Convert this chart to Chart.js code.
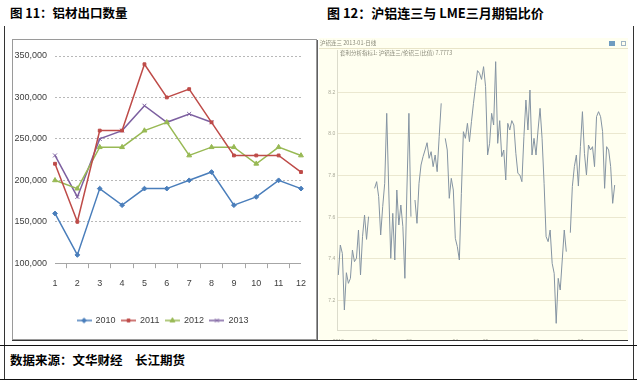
<!DOCTYPE html>
<html>
<head>
<meta charset="utf-8">
<script src="https://cdn.jsdelivr.net/npm/chart.js@4.4.0/dist/chart.umd.min.js"></script>
<style>
body { margin:0; background:#fff; width:637px; height:382px; position:relative; overflow:hidden; font-family:"Noto Sans CJK SC", sans-serif; }
.abs { position:absolute; }
.title { font-weight:bold; font-size:12.5px; line-height:16px; color:#000; top:5px; white-space:nowrap; }
.vline { width:1px; background:#333; }
.hline { height:1px; background:#111; }
#leftBox { left:12px; top:39px; width:303px; height:299px; border:1px solid #9a9a9a; box-shadow:1px 1px 0 #606060; background:#fff; }
#rightBox { left:319px; top:38px; width:309px; height:302px; background:#fffff0; }
.tiny { font-size:5.5px; color:#8a8a7a; white-space:nowrap; line-height:7px; }
</style>
</head>
<body>

<div class="abs title" style="left:10px;">图 11：铝材出口数量</div>
<div class="abs title" style="left:327px;font-size:13px;">图 12：沪铝连三与 LME三月期铝比价</div>

<div class="abs vline" style="left:4px;top:26px;height:354px;"></div>
<div class="abs vline" style="left:633px;top:26px;height:354px;"></div>

<div class="abs" id="leftBox"><canvas id="exports" width="303" height="299"></canvas></div>

<div class="abs" id="rightBox">
  <canvas id="ratio" width="309" height="302"></canvas>
  <div class="abs tiny" style="left:1px;top:2px;">沪铝连三 2013-01-日线</div>
  <div class="abs" style="left:0;top:10px;width:309px;height:1px;background:#e8e4c8;"></div>
  <div class="abs tiny" style="left:21px;top:12px;">套利分析指标1: 沪铝连三/伦铝三(比值)  7.7773</div>
  <div class="abs" style="left:290px;top:3px;width:6px;height:5px;background:#6f9cc0;"></div>
  <div class="abs" style="left:302px;top:3px;width:5px;height:5px;border:1px solid #9fb4c4;box-sizing:border-box;"></div>
</div>

<div class="abs hline" style="left:12px;top:340px;width:616px;background:#333;"></div>
<div class="abs hline" style="left:0;top:345px;width:637px;"></div>
<div class="abs title" style="left:10px;top:352px;">数据来源：文华财经　长江期货</div>
<div class="abs hline" style="left:0;top:379px;width:637px;"></div>

<script>
// 铝材出口数量 (吨)
const months = ['1','2','3','4','5','6','7','8','9','10','11','12'];
const exp2010 = [160000,110000,190000,170000,190000,190000,200000,210000,170000,180000,200000,190000];
const exp2011 = [220000,150000,260000,260000,340000,300000,310000,270000,230000,230000,230000,210000];
const exp2012 = [200000,190000,240000,240000,260000,270000,230000,240000,240000,220000,240000,230000];
const exp2013 = [230000,180000,250000,260000,290000,270000,280000,270000,null,null,null,null];

// 沪铝连三 / LME三月 比值, daily
const ratio = [
  7.323,7.467,7.427,7.155,7.334,7.283,7.307,7.443,7.387,7.403,7.539,7.323,7.507,7.611,7.494,7.603,
  null,null,
  7.739,7.771,7.699,7.515,7.651,7.763,8.099,7.731,7.403,7.619,7.395,7.731,7.563,7.659,7.555,7.307,7.731,8.099,7.603,
  null,
  7.683,7.571,7.763,7.851,7.891,7.923,7.958,7.883,7.915,7.843,7.899,7.819,7.987,8.147,
  null,
  7.979,7.923,7.691,7.787,7.731,7.499,7.459,7.395,7.715,8.011,7.979,8.051,7.963,8.059,8.147,8.227,
  8.304,8.291,8.262,8.323,8.227,7.899,7.955,8.099,8.043,8.347,7.955,8.064,7.891,7.923,7.779,8.051,
  8.019,8.064,8.043,7.907,7.811,7.803,7.771,7.987,8.163,8.019,8.211,7.899,7.979,7.899,8.019,8.123,
  7.979,7.763,7.507,7.483,7.539,7.379,7.331,7.091,7.307,7.251,7.395,7.539,7.435,
  null,
  7.526,7.747,7.843,7.899,7.750,7.939,8.107,7.907,7.803,7.947,7.923,7.939,7.843,8.083,8.107,8.083,
  8.011,7.739,7.939,7.923,7.843,7.667,7.755
];
const ratioTicks = [7.2,7.4,7.6,7.8,8.0,8.2];
const monthLabels = ['2013','02','03','04','05','06','07'];
const monthStart = [0,18,35,58,73,98,120];

const tickFont = {family:'"Liberation Sans", sans-serif', size:9};
const tickColor = '#404040';

function legendIcon(color, style, r) {
  const c = document.createElement('canvas');
  c.width = 15; c.height = 8;
  const g = c.getContext('2d');
  g.strokeStyle = color; g.fillStyle = color; g.lineWidth = 1.5;
  g.beginPath(); g.moveTo(0, 4); g.lineTo(15, 4); g.stroke();
  g.lineWidth = 1;
  Chart.helpers.drawPoint(g, {pointStyle: style, radius: r, rotation: 0, borderWidth: 1}, 7.5, 4);
  return c;
}

function series(label, data, color, style, r) {
  return {
    label: label, data: data,
    borderColor: color, backgroundColor: color, borderWidth: 1.5,
    pointStyle: style, pointRadius: r, pointBorderWidth: 1,
    pointBackgroundColor: color, pointBorderColor: color,
    tension: 0, spanGaps: false,
    icon: legendIcon(color, style, r)
  };
}

new Chart(document.getElementById('exports'), {
  type: 'line',
  data: {
    labels: months,
    datasets: [
      series('2010', exp2010, '#4a7ebb', 'rectRot', 2.4),
      series('2011', exp2011, '#be4b48', 'rect', 2),
      series('2012', exp2012, '#98b954', 'triangle', 2.8),
      series('2013', exp2013, '#7d60a0', 'crossRot', 2.8)
    ]
  },
  options: {
    responsive: false,
    animation: false,
    layout: {padding: {left: 0, right: 3.5, top: 16, bottom: 4}},
    plugins: {
      tooltip: {enabled: false},
      legend: {
        position: 'bottom',
        labels: {
          usePointStyle: true, pointStyleWidth: 14, padding: 6,
          font: tickFont, color: tickColor,
          generateLabels: chart => chart.data.datasets.map((ds, i) => ({
            text: ds.label, pointStyle: ds.icon, fillStyle: ds.borderColor,
            strokeStyle: ds.borderColor, lineWidth: 0, hidden: false,
            datasetIndex: i, fontColor: tickColor
          }))
        }
      }
    },
    scales: {
      x: {
        grid: {
          offset: true, drawOnChartArea: true, tickLength: 5,
          color: c => c.index === 0 ? '#a0a0a0' : 'rgba(0,0,0,0)',
          tickColor: '#a6a6a6'
        },
        border: {color: '#a6a6a6', dash: [5, 3]},
        ticks: {font: tickFont, color: tickColor, padding: 10},
        afterFit: s => { s.height = 46.8; }
      },
      y: {
        min: 100000, max: 350000,
        ticks: {stepSize: 50000, padding: 8, font: tickFont, color: tickColor,
                callback: v => v.toLocaleString('en-US')},
        grid: {drawTicks: false, color: '#b8b8b8'},
        border: {display: false, dash: [2, 2]},
        afterFit: s => { s.width = 42; }
      }
    }
  }
});

new Chart(document.getElementById('ratio'), {
  type: 'line',
  data: {
    datasets: [{
      data: ratio.map((v, i) => ({x: i, y: v})),
      borderColor: '#8594a2', borderWidth: 1, pointRadius: 0,
      tension: 0, spanGaps: false
    }]
  },
  options: {
    responsive: false,
    animation: false,
    layout: {padding: {left: 0, right: 2, top: 12, bottom: 0}},
    plugins: {legend: {display: false}, tooltip: {enabled: false}},
    scales: {
      x: {
        type: 'linear', min: -0.5, max: 142.6,
        afterBuildTicks: s => { s.ticks = monthStart.map(v => ({value: v})); },
        ticks: {autoSkip: false, maxRotation: 0, padding: 1, color: '#a8a898',
                font: {size: 5}, callback: (v, i) => monthLabels[i]},
        grid: {display: false},
        border: {color: '#dcdccc'},
        afterFit: s => { s.height = 10; }
      },
      y: {
        min: 7.059, max: 8.403,
        afterBuildTicks: s => { s.ticks = ratioTicks.map(v => ({value: v})); },
        ticks: {padding: 2, color: '#a8a898', font: {size: 5}, callback: v => v.toFixed(1)},
        grid: {drawTicks: false, color: '#ebe8d0'},
        border: {color: '#dcdccc'},
        afterFit: s => { s.width = 18.3; }
      }
    }
  }
});
</script>
</body>
</html>
